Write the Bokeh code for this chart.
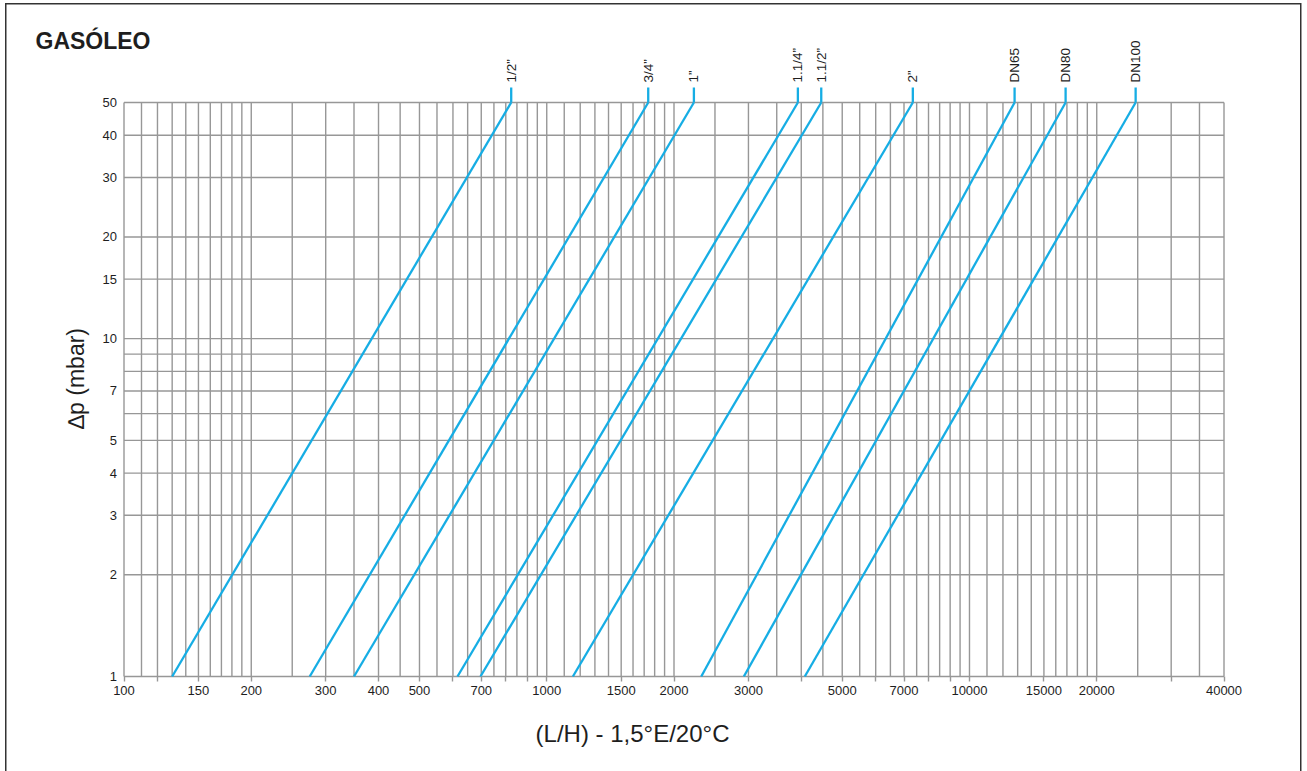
import math
from bokeh.plotting import figure
from bokeh.models import FixedTicker, Label, Range1d, BasicTickFormatter
from bokeh.core.properties import value
from bokeh.embed import file_html
from bokeh.resources import INLINE

# ---------------- data ----------------
sizes = ['1/2”', '3/4”', '1”', '1.1/4”', '1.1/2”', '2”', 'DN65', 'DN80', 'DN100']
flow_at_1mbar = [130, 275, 350, 615, 697, 1153, 2320, 2926, 4078]
flow_at_50mbar = [824, 1738, 2229, 3927, 4460, 7345, 12785, 16880, 24720]
dp_min = 1
dp_max = 50
flow_min = 100
flow_max = 40000

x_major_ticks = [100, 150, 200, 300, 400, 500, 700, 1000, 1500, 2000, 3000, 5000,
                 7000, 10000, 15000, 20000, 40000]
x_minor_ticks = [120, 600, 800, 900, 4000, 6000, 8000, 9000, 30000]
x_grid_lines = (list(range(100, 200, 10)) + list(range(200, 1000, 50)) +
                list(range(1000, 2000, 100)) + list(range(2000, 10000, 500)) +
                list(range(10000, 20000, 1000)) + list(range(20000, 40001, 5000)))
y_ticks = [1, 2, 3, 4, 5, 7, 10, 15, 20, 30, 40, 50]
y_grid_lines = [1, 2, 3, 4, 5, 6, 7, 8, 9, 10, 15, 20, 30, 40, 50]

title_text = "GASÓLEO"
x_title = "(L/H) - 1,5°E/20°C"
y_title = "∆p (mbar)"

# ---------------- style / layout ----------------
FONT = "Liberation Sans"
GRID = "#979797"
BLUE = "#16ade4"
INK = "#1e1e1e"

W, H = 1307, 771
grid_left, grid_right = 123.5, 1223.5      # page px of flow_min / flow_max
grid_top, grid_bottom = 102, 676           # page px of dp_max / dp_min

# the frame covers the whole canvas; axes are pinned inside it
ppdx = (grid_right - grid_left) / math.log10(flow_max / flow_min)
ppdy = (grid_bottom - grid_top) / math.log10(dp_max / dp_min)
x_start = flow_min * 10 ** (-grid_left / ppdx)
x_end = flow_max * 10 ** ((W - grid_right) / ppdx)
y_start = dp_min * 10 ** (-(H - grid_bottom) / ppdy)
y_end = dp_max * 10 ** (grid_top / ppdy)
n = len(sizes)

p = figure(width=W, height=H, x_axis_type="log", y_axis_type="log",
           x_range=Range1d(x_start, x_end), y_range=Range1d(y_start, y_end),
           output_backend="svg", toolbar_location=None,
           min_border_left=0, min_border_right=0,
           min_border_top=0, min_border_bottom=0)
p.background_fill_color = None
p.border_fill_color = None
p.outline_line_color = None
p.xgrid.visible = False
p.ygrid.visible = False
# thin page frame (left, top, right)
p.styles = {"box-shadow": ("inset 5px 0 0 0 #fff, inset -5.5px 0 0 0 #fff, "
                           "inset 0 3px 0 0 #fff, "
                           "inset 6.5px 0 0 0 #333, inset -7px 0 0 0 #333, "
                           "inset 0 4.5px 0 0 #333"),
            "background": "transparent"}

# grid drawn only over the chart area
p.segment(x0=x_grid_lines, y0=[dp_min] * len(x_grid_lines),
          x1=x_grid_lines, y1=[dp_max] * len(x_grid_lines),
          line_color=GRID, line_width=1.4)
p.segment(x0=[flow_min] * len(y_grid_lines), y0=y_grid_lines,
          x1=[flow_max] * len(y_grid_lines), y1=y_grid_lines,
          line_color=GRID, line_width=1.4)

# x axis, pinned at dp_min
xa = p.xaxis[0]
xa.fixed_location = dp_min
xa.ticker = FixedTicker(ticks=x_major_ticks, minor_ticks=x_minor_ticks)
xa.formatter = BasicTickFormatter(use_scientific=False)
xa.axis_line_color = None
xa.major_tick_line_color = GRID
xa.major_tick_line_width = 1.4
xa.major_tick_in = 0
xa.major_tick_out = 5
xa.minor_tick_line_color = GRID
xa.minor_tick_line_width = 1.4
xa.minor_tick_in = 0
xa.minor_tick_out = 5
xa.major_label_standoff = 4
xa.major_label_text_font = FONT
xa.major_label_text_font_size = "13px"
xa.major_label_text_color = INK

# y axis, pinned at flow_min
ya = p.yaxis[0]
ya.fixed_location = flow_min
ya.ticker = FixedTicker(ticks=y_ticks, minor_ticks=[])
ya.formatter = BasicTickFormatter(use_scientific=False)
ya.axis_line_color = None
ya.major_tick_line_color = None
ya.minor_tick_line_color = None
ya.major_tick_in = 0
ya.major_tick_out = 0
ya.major_label_standoff = 7
ya.major_label_text_font = FONT
ya.major_label_text_font_size = "13px"
ya.major_label_text_color = INK

# pressure-drop lines
p.segment(x0=flow_at_1mbar, y0=[dp_min] * n, x1=flow_at_50mbar, y1=[dp_max] * n,
          line_color=BLUE, line_width=2.3)

# vertical marks above the chart and size labels
mark_top = dp_max * 10 ** (15 / ppdy)
label_base = dp_max * 10 ** (20 / ppdy)
p.segment(x0=flow_at_50mbar, y0=[dp_max] * n, x1=flow_at_50mbar, y1=[mark_top] * n,
          line_color=BLUE, line_width=2.3)
p.text(x=flow_at_50mbar, y=[label_base] * n, text=sizes, angle=math.pi / 2,
       text_align="left", text_baseline="middle",
       text_font=value(FONT), text_font_size=value("13.5px"), text_color=INK)

# titles (screen units: x from the frame's left, y up from its bottom)
def sx(page_x):
    return page_x

def sy(page_y):
    return H - page_y

p.add_layout(Label(x=sx(35), y=sy(40), x_units="screen", y_units="screen",
                   text=title_text, text_font=FONT, text_font_style="bold",
                   text_font_size="23px", text_color=INK,
                   text_align="left", text_baseline="alphabetic"))
p.add_layout(Label(x=sx(632), y=sy(733), x_units="screen", y_units="screen",
                   text=x_title, text_font=FONT, text_font_size="24px",
                   text_color=INK, text_align="center", text_baseline="alphabetic"))
p.add_layout(Label(x=sx(75), y=sy(378), x_units="screen", y_units="screen",
                   text=y_title, text_font=FONT, text_font_size="23px",
                   text_color=INK, text_align="center", text_baseline="middle",
                   angle=math.pi / 2))

open("out.html", "w").write(file_html(p, INLINE))
